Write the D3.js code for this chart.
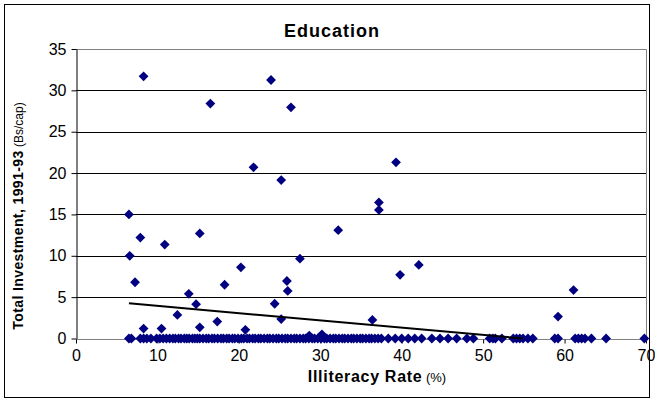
<!DOCTYPE html>
<html>
<head>
<meta charset="utf-8">
<script src="https://cdn.jsdelivr.net/npm/d3@7"></script>
<style>
  body { margin: 0; background: #fff; }
  svg { display: block; font-family: "Liberation Sans", Arial, sans-serif; }
</style>
</head>
<body>
<svg id="chart" width="655" height="401"></svg>
<script>
// points with investment above zero (illiteracy %, Bs/cap)
const pointX = [6.5, 6.6, 7.25, 7.9, 8.3, 8.3, 10.9, 10.5, 12.45, 13.85, 14.75, 15.2, 15.2, 16.5, 17.35, 18.25,
  20.25, 20.8, 21.8, 23.95, 26.4, 25.2, 39.3, 37.2, 37.2, 32.2, 27.5, 25.9, 26.0, 39.8, 42.1, 24.4, 25.2,
  36.4, 61.1, 59.2, 28.65, 30.2];
const pointY = [15, 10, 6.8, 12.2, 31.7, 1.2, 11.35, 1.2, 2.85, 5.4, 4.15, 12.7, 1.35, 28.4, 2.05, 6.5,
  8.6, 1.05, 20.7, 31.25, 27.95, 19.15, 21.3, 16.45, 15.55, 13.1, 9.65, 6.95, 5.75, 7.7, 8.9, 4.2, 2.35,
  2.25, 5.85, 2.65, 0.35, 0.5];

// municipalities with zero investment (illiteracy %)
const zeroX = [6.5, 6.8, 7.9, 8.3, 8.7, 9.2, 9.9, 10.3, 10.7, 11.1, 11.5, 11.9, 12.2, 12.6, 12.9, 13.3, 13.6,
  13.9, 14.3, 14.6, 14.9, 15.2, 15.6, 16.0, 16.3, 16.7, 17.0, 17.4, 17.8, 18.1, 18.5, 18.8, 19.2, 19.5, 19.9,
  20.3, 20.6, 21.0, 21.3, 21.7, 22.0, 22.4, 22.7, 23.1, 23.5, 23.8, 24.2, 24.6, 24.9, 25.3, 25.7, 26.0, 26.4,
  26.8, 27.1, 27.5, 27.9, 28.2, 28.6, 29.0, 29.3, 29.7, 30.1, 30.5, 30.8, 31.2, 31.6, 31.9, 32.3, 32.7, 33.0,
  33.4, 33.8, 34.1, 34.5, 34.9, 35.2, 35.6, 36.0, 36.3, 36.7, 37.1, 37.5, 38.35, 39.2, 40.0, 40.8, 41.6, 42.45,
  43.7, 44.7, 45.7, 46.75, 48.0, 48.8, 50.8, 51.2, 51.5, 52.3, 53.7, 54.1, 54.5, 54.9, 55.5, 56.1, 58.8, 59.2,
  61.3, 61.7, 62.1, 62.5, 63.3, 65.1, 69.8];

// linear trendline (Excel)
const trendIntercept = 4.83;
const trendSlope = -0.088;

const xTicks = [0, 10, 20, 30, 40, 50, 60, 70];
const yTicks = [0, 5, 10, 15, 20, 25, 30, 35];

const svg = d3.select("#chart");
const plotLeft = 76, plotRight = 646, plotTop = 49, plotBottom = 338.5;

const x = d3.scaleLinear().domain([0, 70]).range([plotLeft, plotRight]);
const y = d3.scaleLinear().domain([0, 35]).range([plotBottom, plotTop]);

// outer frame
svg.append("rect")
  .attr("x", 4.5).attr("y", 4.5).attr("width", 645).attr("height", 393)
  .attr("fill", "#fff").attr("stroke", "#000").attr("stroke-width", 1);

// grid lines
svg.append("g")
  .selectAll("line")
  .data(yTicks.filter(d => d > 0 && d < 35))
  .join("line")
  .attr("x1", plotLeft).attr("x2", plotRight)
  .attr("y1", d => Math.round(y(d)) + 0.5)
  .attr("y2", d => Math.round(y(d)) + 0.5)
  .attr("stroke", "#000").attr("stroke-width", 1);

// plot area border (top and right, grey)
svg.append("path")
  .attr("d", `M${plotLeft},${Math.round(y(35)) + 0.5}H${plotRight + 0.5}V${Math.round(y(0)) + 0.5}`)
  .attr("fill", "none").attr("stroke", "#808080");

// x axis line
svg.append("line")
  .attr("x1", plotLeft).attr("x2", plotRight)
  .attr("y1", Math.round(y(0)) + 0.5).attr("y2", Math.round(y(0)) + 0.5)
  .attr("stroke", "#808080");

// y axis
const yAxis = svg.append("g")
  .attr("transform", `translate(${plotLeft + 0.5},0)`)
  .call(d3.axisLeft(y).tickValues(yTicks).tickSize(5).tickPadding(5).tickSizeOuter(0));
yAxis.select(".domain").attr("stroke", "#000");
yAxis.selectAll(".tick line").attr("stroke", "#000");
yAxis.selectAll(".tick text").attr("font-size", 16).attr("fill", "#000")
  .attr("font-family", "Liberation Sans, Arial, sans-serif");

// x axis ticks and labels
const xAxis = svg.append("g")
  .attr("transform", `translate(0,${Math.round(y(0)) + 0.5})`)
  .call(d3.axisBottom(x).tickValues(xTicks).tickSize(4).tickPadding(6).tickSizeOuter(0));
xAxis.select(".domain").remove();
xAxis.selectAll(".tick line").attr("stroke", "#000");
xAxis.selectAll(".tick text").attr("font-size", 16).attr("fill", "#000")
  .attr("font-family", "Liberation Sans, Arial, sans-serif");

// markers
const diamond = d3.symbol().type(d3.symbolSquare).size(48);
const pts = zeroX.map(v => [v, 0]).concat(pointX.map((v, i) => [v, pointY[i]]));
svg.append("g")
  .selectAll("path")
  .data(pts)
  .join("path")
  .attr("d", diamond)
  .attr("transform", d => `translate(${x(d[0])},${y(d[1])}) rotate(45)`)
  .attr("fill", "#000080");

// trendline, clipped at zero
const xStart = d3.min(pts, d => d[0]);
const xEnd = Math.min(70, -trendIntercept / trendSlope);
svg.append("line")
  .attr("x1", x(xStart)).attr("y1", y(trendIntercept + trendSlope * xStart))
  .attr("x2", x(xEnd)).attr("y2", y(trendIntercept + trendSlope * xEnd))
  .attr("stroke", "#000").attr("stroke-width", 2);

// title
svg.append("text")
  .attr("x", 332).attr("y", 37)
  .attr("text-anchor", "middle")
  .attr("font-size", 18).attr("font-weight", "bold")
  .attr("letter-spacing", 1)
  .text("Education");

// x label
const xl = svg.append("text")
  .attr("x", 377).attr("y", 382)
  .attr("text-anchor", "middle");
xl.append("tspan").attr("font-size", 16).attr("font-weight", "bold").attr("letter-spacing", 0.7).text("Illiteracy Rate");
xl.append("tspan").attr("font-size", 13).text(" (%)");

// y label
const yl = svg.append("text")
  .attr("transform", "translate(23,216) rotate(-90)")
  .attr("text-anchor", "middle");
yl.append("tspan").attr("font-size", 14).attr("font-weight", "bold").attr("letter-spacing", 0.4).text("Total Investment, 1991-93");
yl.append("tspan").attr("font-size", 12).text(" (Bs/cap)");
</script>
</body>
</html>
